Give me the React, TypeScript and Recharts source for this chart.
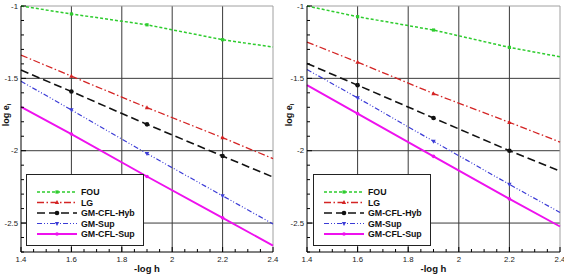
import React from 'react';
import { LineChart, Line, XAxis, YAxis, ReferenceLine, Legend } from 'recharts';

// Mesh refinement levels (-log h) and the levels that carry a symbol
const steps = [1.4, 1.6, 1.9, 2.2, 2.4];
const markedSteps = [1.6, 1.9, 2.2];

// Axis ticks
const xTicks = [1.4, 1.45, 1.5, 1.55, 1.6, 1.65, 1.7, 1.75, 1.8, 1.85, 1.9, 1.95, 2, 2.05, 2.1, 2.15, 2.2, 2.25, 2.3, 2.35, 2.4];
const xMajor = [1.4, 1.6, 1.8, 2, 2.2, 2.4];
const yTicks = [-2.7, -2.6, -2.5, -2.4, -2.3, -2.2, -2.1, -2, -1.9, -1.8, -1.7, -1.6, -1.5, -1.4, -1.3, -1.2, -1.1, -1];
const yMajor = [-2.5, -2, -1.5, -1];

// log of the error, left case
const leftFOU = [-1.0, -1.055, -1.13, -1.233, -1.284];
const leftLG = [-1.339, -1.485, -1.702, -1.91, -2.055];
const leftHyb = [-1.443, -1.591, -1.818, -2.037, -2.182];
const leftSup = [-1.52, -1.718, -2.02, -2.312, -2.506];
const leftCflSup = [-1.697, -1.885, -2.178, -2.464, -2.656];

// log of the error, right case
const rightFOU = [-1.0, -1.074, -1.166, -1.286, -1.351];
const rightLG = [-1.249, -1.388, -1.605, -1.804, -1.94];
const rightHyb = [-1.397, -1.547, -1.774, -2.0, -2.141];
const rightSup = [-1.439, -1.635, -1.935, -2.233, -2.427];
const rightCflSup = [-1.547, -1.744, -2.039, -2.333, -2.524];

const FONT = '"Liberation Sans", Arial, Helvetica, sans-serif';

type Shape = 'square' | 'triUp' | 'circle' | 'triDown' | 'dot';

const seriesStyle: { key: string; name: string; color: string; dash?: string; width: number; shape: Shape }[] = [
  { key: 'fou', name: 'FOU', color: '#2ecc2e', dash: '3 2', width: 1.5, shape: 'square' },
  { key: 'lg', name: 'LG', color: '#d42424', dash: '7 2.5 1.5 2.5', width: 1.3, shape: 'triUp' },
  { key: 'hyb', name: 'GM-CFL-Hyb', color: '#111111', dash: '8 4', width: 1.6, shape: 'circle' },
  { key: 'sup', name: 'GM-Sup', color: '#3b3bd6', dash: '5 2 1 2 1 2', width: 1.2, shape: 'triDown' },
  { key: 'cflsup', name: 'GM-CFL-Sup', color: '#ee11ee', width: 1.9, shape: 'dot' },
];

function buildRows(fou: number[], lg: number[], hyb: number[], sup: number[], cflsup: number[]) {
  return steps.map((x, i) => ({ x, fou: fou[i], lg: lg[i], hyb: hyb[i], sup: sup[i], cflsup: cflsup[i] }));
}

const leftRows = buildRows(leftFOU, leftLG, leftHyb, leftSup, leftCflSup);
const rightRows = buildRows(rightFOU, rightLG, rightHyb, rightSup, rightCflSup);

const near = (list: number[], v: number) => list.some((m) => Math.abs(m - v) < 1e-6);

function Marker({ shape, cx, cy, color }: { shape: Shape; cx: number; cy: number; color: string }) {
  switch (shape) {
    case 'square':
      return <rect x={cx - 1.6} y={cy - 1.6} width={3.2} height={3.2} fill={color} />;
    case 'triUp':
      return <polygon points={`${cx},${cy - 2.4} ${cx - 2.2},${cy + 1.6} ${cx + 2.2},${cy + 1.6}`} fill={color} />;
    case 'circle':
      return <circle cx={cx} cy={cy} r={2.3} fill={color} />;
    case 'triDown':
      return <polygon points={`${cx},${cy + 2.4} ${cx - 2.2},${cy - 1.6} ${cx + 2.2},${cy - 1.6}`} fill={color} />;
    default:
      return <circle cx={cx} cy={cy} r={1.8} fill={color} />;
  }
}

const makeDot = (shape: Shape, color: string) => (props: any) => {
  const { cx, cy, payload, index } = props;
  if (!payload || !near(markedSteps, payload.x)) return <g key={`d-${index}`} />;
  return (
    <g key={`d-${index}`}>
      <Marker shape={shape} cx={cx} cy={cy} color={color} />
    </g>
  );
};

function XTick(props: any) {
  const { x, y, payload } = props;
  const major = near(xMajor, payload.value);
  return (
    <g>
      <line x1={x} x2={x} y1={y} y2={y - (major ? 5 : 3)} stroke="#000" strokeWidth={1} />
      {major && (
        <text x={x} y={y + 9.5} textAnchor="middle" fontSize={7.8} fontFamily={FONT} fill="#222">
          {String(payload.value)}
        </text>
      )}
    </g>
  );
}

function YTick(props: any) {
  const { x, y, payload } = props;
  const major = near(yMajor, payload.value);
  return (
    <g>
      <line x1={x} x2={x + (major ? 5 : 3)} y1={y} y2={y} stroke="#000" strokeWidth={1} />
      {major && (
        <text x={x - 3} y={y} dy="0.35em" textAnchor="end" fontSize={7.8} fontFamily={FONT} fill="#222">
          {String(payload.value)}
        </text>
      )}
    </g>
  );
}

function XTitle(props: any) {
  const vb = props.viewBox || { x: 0, y: 0, width: 0, height: 0 };
  return (
    <text x={vb.x + vb.width / 2} y={vb.y + 17} dy="0.35em" textAnchor="middle" fontSize={9.5} fontWeight="bold" fontFamily={FONT} fill="#111">
      -log h
    </text>
  );
}

function makeYTitle(cx: number) {
  return (props: any) => {
    const vb = props.viewBox || { x: 0, y: 0, width: 0, height: 0 };
    const cy = vb.y + vb.height / 2 - 14;
    return (
      <text transform={`translate(${cx},${cy}) rotate(-90)`} x={0} y={0} dy="0.35em" textAnchor="middle" fontSize={9} fontWeight="bold" fontFamily={FONT} fill="#111">
        log e<tspan fontSize={6} dy={2}>l</tspan>
      </text>
    );
  };
}

function LegendBox() {
  return (
    <svg width={118} height={72} style={{ display: 'block' }}>
      <rect x={0.5} y={0.5} width={117} height={71} fill="#fff" stroke="#222" strokeWidth={1} />
      {seriesStyle.map((s, i) => {
        const y = 18 + i * 10.5;
        return (
          <g key={s.key}>
            <line x1={11} x2={51} y1={y} y2={y} stroke={s.color} strokeWidth={s.width} strokeDasharray={s.dash} />
            <Marker shape={s.shape} cx={31} cy={y} color={s.color} />
            <text x={55} y={y} dy="0.35em" fontSize={8.8} fontWeight="bold" fontFamily={FONT} fill="#111">
              {s.name}
            </text>
          </g>
        );
      })}
    </svg>
  );
}

function Panel({ rows, yAxisWidth, rightMargin, legendLeft, titleX }: { rows: any[]; yAxisWidth: number; rightMargin: number; legendLeft: number; titleX: number }) {
  return (
    <LineChart width={282} height={275} data={rows} margin={{ top: 6, right: rightMargin, bottom: 0, left: 0 }}>
      <XAxis
        type="number"
        dataKey="x"
        domain={[1.4, 2.4]}
        ticks={xTicks}
        interval={0}
        height={23}
        tickLine={false}
        tickSize={0}
        tickMargin={0}
        axisLine={{ stroke: '#000', strokeWidth: 1 }}
        tick={<XTick />}
        label={{ content: XTitle }}
      />
      <YAxis
        type="number"
        domain={[-2.7, -1]}
        ticks={yTicks}
        interval={0}
        width={yAxisWidth}
        tickLine={false}
        tickSize={0}
        tickMargin={0}
        axisLine={{ stroke: '#000', strokeWidth: 1 }}
        tick={<YTick />}
        label={{ content: makeYTitle(titleX) }}
      />
      {xMajor.slice(1, -1).map((v) => (
        <ReferenceLine key={`vx-${v}`} x={v} stroke="#3a3a3a" strokeWidth={1} />
      ))}
      {yMajor.slice(0, -1).map((v) => (
        <ReferenceLine key={`hy-${v}`} y={v} stroke="#3a3a3a" strokeWidth={1} />
      ))}
      <ReferenceLine x={2.4} stroke="#a0a0a0" strokeWidth={1} />
      <ReferenceLine y={-1} stroke="#a0a0a0" strokeWidth={1} />
      {seriesStyle.map((s) => (
        <Line
          key={s.key}
          type="linear"
          dataKey={s.key}
          name={s.name}
          stroke={s.color}
          strokeWidth={s.width}
          strokeDasharray={s.dash}
          dot={makeDot(s.shape, s.color)}
          activeDot={false}
          isAnimationActive={false}
        />
      ))}
      <Legend
        layout="vertical"
        align="center"
        verticalAlign="middle"
        content={() => <LegendBox />}
        wrapperStyle={{ position: 'absolute', left: legendLeft, top: 174, width: 118, height: 72, margin: 0, padding: 0 }}
      />
    </LineChart>
  );
}

export default function App() {
  return (
    <div style={{ position: 'absolute', left: 0, top: 0, width: 564, height: 275, background: '#fff' }}>
      <div style={{ position: 'absolute', left: 0, top: 0 }}>
        <Panel rows={leftRows} yAxisWidth={21} rightMargin={9} legendLeft={26} titleX={5.5} />
      </div>
      <div style={{ position: 'absolute', left: 282, top: 0 }}>
        <Panel rows={rightRows} yAxisWidth={25} rightMargin={4} legendLeft={31} titleX={6.5} />
      </div>
    </div>
  );
}
